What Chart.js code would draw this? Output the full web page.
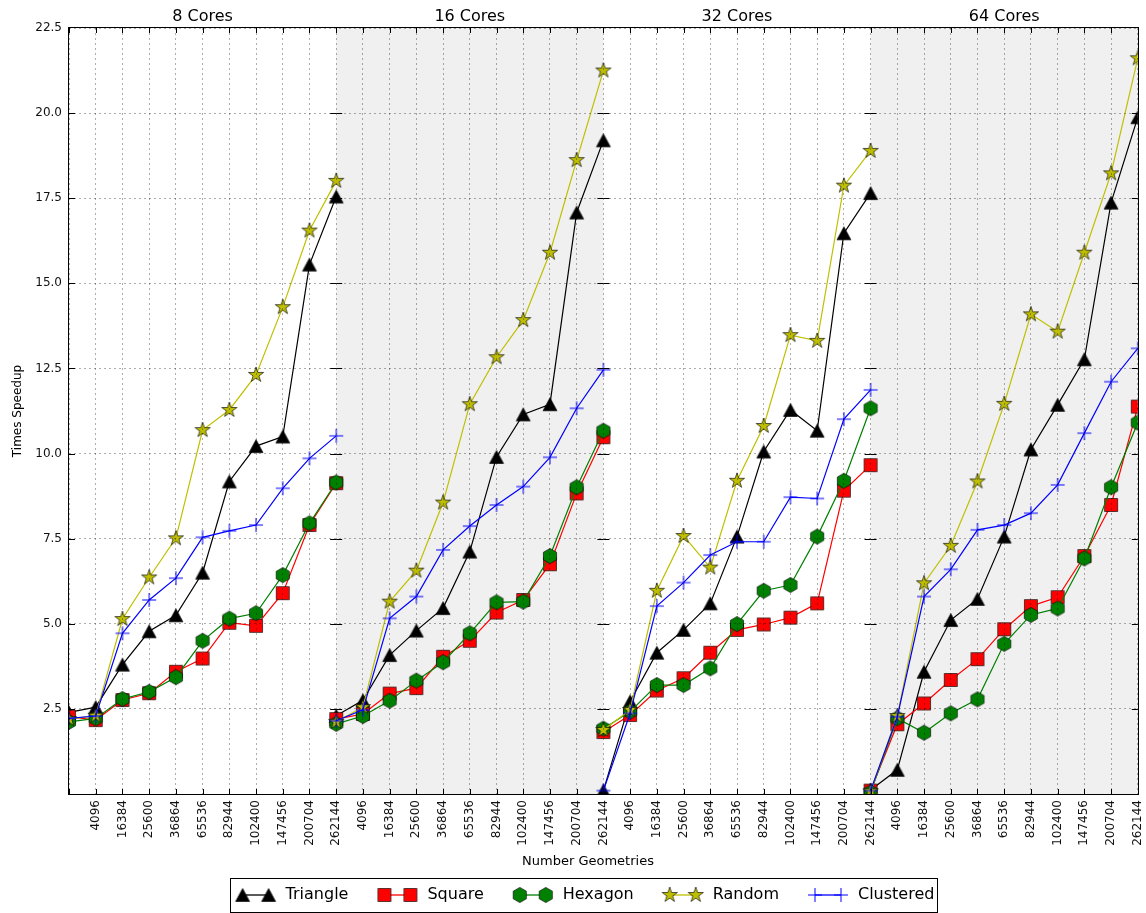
<!DOCTYPE html>
<html>
<head>
<meta charset="utf-8">
<script src="https://cdn.jsdelivr.net/npm/chart.js@4.4.1/dist/chart.umd.min.js"></script>
<style>
  html, body { margin: 0; padding: 0; background: #ffffff; }
  #wrap { width: 1146px; height: 913px; }
</style>
</head>
<body>
<div id="wrap"><canvas id="speedup" width="1146" height="913"></canvas></div>
<script>
// ---- data -------------------------------------------------------------
const panelTitles = ['8 Cores', '16 Cores', '32 Cores', '64 Cores'];
const geometryLabels = ['4096', '16384', '25600', '36864', '65536', '82944',
                        '102400', '147456', '200704', '262144'];
const seriesNames = ['Triangle', 'Square', 'Hexagon', 'Random', 'Clustered'];

// one row of 11 speedups per core count (8, 16, 32, 64)
const triangle = [
  [2.40, 2.55, 3.80, 4.78, 5.25, 6.50, 9.18, 10.22, 10.50, 15.55, 17.55],
  [2.30, 2.75, 4.08, 4.80, 5.46, 7.12, 9.90, 11.15, 11.45, 17.08, 19.20],
  [0.10, 2.72, 4.15, 4.82, 5.60, 7.56, 10.06, 11.28, 10.67, 16.47, 17.65],
  [0.12, 0.71, 3.59, 5.11, 5.73, 7.56, 10.12, 11.43, 12.77, 17.37, 19.88]
];
const square = [
  [2.27, 2.17, 2.76, 2.96, 3.59, 3.98, 5.03, 4.94, 5.90, 7.90, 9.13],
  [2.20, 2.35, 2.95, 3.11, 4.03, 4.50, 5.33, 5.70, 6.75, 8.83, 10.48],
  [1.82, 2.32, 3.04, 3.40, 4.15, 4.82, 4.98, 5.18, 5.60, 8.91, 9.66],
  [0.10, 2.05, 2.66, 3.35, 3.96, 4.84, 5.52, 5.78, 6.99, 8.49, 11.38]
];
const hexagon = [
  [2.12, 2.22, 2.79, 3.00, 3.43, 4.50, 5.15, 5.31, 6.43, 7.95, 9.15],
  [2.06, 2.29, 2.74, 3.33, 3.87, 4.72, 5.63, 5.65, 6.99, 9.01, 10.67],
  [1.92, 2.42, 3.20, 3.20, 3.69, 4.99, 5.97, 6.14, 7.56, 9.20, 11.33],
  [0.05, 2.22, 1.80, 2.37, 2.78, 4.41, 5.26, 5.45, 6.92, 9.01, 10.91]
];
const random = [
  [2.20, 2.30, 5.14, 6.36, 7.51, 10.69, 11.28, 12.31, 14.30, 16.55, 18.01],
  [2.12, 2.55, 5.65, 6.56, 8.56, 11.45, 12.83, 13.92, 15.90, 18.62, 21.25],
  [1.88, 2.47, 5.97, 7.58, 6.65, 9.20, 10.81, 13.48, 13.31, 17.87, 18.89],
  [0.08, 2.29, 6.19, 7.29, 9.18, 11.46, 14.09, 13.58, 15.90, 18.23, 21.61]
];
const clustered = [
  [2.22, 2.29, 4.72, 5.70, 6.34, 7.54, 7.73, 7.90, 8.98, 9.86, 10.52],
  [2.15, 2.47, 5.16, 5.80, 7.17, 7.87, 8.49, 9.03, 9.89, 11.33, 12.46],
  [0.10, 2.37, 5.52, 6.21, 7.02, 7.41, 7.41, 8.72, 8.68, 11.01, 11.87],
  [0.10, 2.27, 5.80, 6.60, 7.76, 7.90, 8.25, 9.08, 10.60, 12.11, 13.09]
];
const seriesValues = [triangle, square, hexagon, random, clustered];

// ---- styles -----------------------------------------------------------
const seriesColors = ['#000000', '#ff0000', '#008000', '#bfbf00', '#0000ff'];
const seriesShapes = ['triangle', 'square', 'hexagon', 'star', 'plus'];
const PANEL_SPAN = 10;

function drawMarker(ctx, shape, cx, cy, color) {
  ctx.save();
  ctx.fillStyle = color;
  ctx.strokeStyle = 'rgba(0,0,0,0.8)';
  ctx.lineWidth = 0.8;
  ctx.lineJoin = 'miter';
  ctx.beginPath();
  if (shape === 'triangle') {
    ctx.moveTo(cx, cy - 6.5);
    ctx.lineTo(cx + 7, cy + 6.5);
    ctx.lineTo(cx - 7, cy + 6.5);
    ctx.closePath();
  } else if (shape === 'square') {
    ctx.rect(cx - 6.5, cy - 6.5, 13, 13);
  } else if (shape === 'hexagon') {
    for (let i = 0; i < 6; i++) {
      const a = (60 * i - 90) * Math.PI / 180;
      const px = cx + 7.6 * Math.cos(a), py = cy + 7.6 * Math.sin(a);
      if (i === 0) ctx.moveTo(px, py); else ctx.lineTo(px, py);
    }
    ctx.closePath();
  } else if (shape === 'star') {
    for (let i = 0; i < 10; i++) {
      const r = i % 2 === 0 ? 8 : 8 * 0.382;
      const a = (36 * i - 90) * Math.PI / 180;
      const px = cx + r * Math.cos(a), py = cy + r * Math.sin(a);
      if (i === 0) ctx.moveTo(px, py); else ctx.lineTo(px, py);
    }
    ctx.closePath();
  }
  if (shape === 'plus') {
    ctx.strokeStyle = color;
    ctx.lineWidth = 1;
    ctx.moveTo(cx - 7, cy); ctx.lineTo(cx + 7, cy);
    ctx.moveTo(cx, cy - 7); ctx.lineTo(cx, cy + 7);
    ctx.stroke();
  } else {
    ctx.fill();
    ctx.stroke();
  }
  ctx.restore();
}

function markerImage(shape, color) {
  const c = document.createElement('canvas');
  c.width = 20; c.height = 20;
  drawMarker(c.getContext('2d'), shape, 10, 10, color);
  return c;
}

// legend glyph: marker - line - marker, with a blank lead-in that spaces the items
const LEGEND_LEAD = 29;
function legendImage(shape, color) {
  const c = document.createElement('canvas');
  c.width = LEGEND_LEAD + 42; c.height = 20;
  const ctx = c.getContext('2d');
  const x0 = LEGEND_LEAD + 7, x1 = LEGEND_LEAD + 33, y = 10;
  ctx.strokeStyle = color;
  ctx.lineWidth = 1.3;
  ctx.beginPath(); ctx.moveTo(x0, y); ctx.lineTo(x1, y); ctx.stroke();
  drawMarker(ctx, shape, x0, y, color);
  drawMarker(ctx, shape, x1, y, color);
  return c;
}

function buildPoints(panels) {
  const pts = [];
  panels.forEach((vals, p) => {
    if (p > 0) pts.push({ x: p * PANEL_SPAN, y: null });   // break the line between panels
    vals.forEach((v, i) => pts.push({ x: p * PANEL_SPAN + i, y: v }));
  });
  return pts;
}

const datasets = seriesNames.map((name, s) => ({
  label: name,
  data: buildPoints(seriesValues[s]),
  borderColor: seriesColors[s],
  backgroundColor: seriesColors[s],
  borderWidth: 1.2,
  pointStyle: markerImage(seriesShapes[s], seriesColors[s]),
  pointRadius: 7,
  pointHoverRadius: 7,
  fill: false,
  tension: 0,
  spanGaps: false,
  clip: 0,
  order: seriesNames.length - s
}));

const legendGlyphs = seriesNames.map((n, s) => legendImage(seriesShapes[s], seriesColors[s]));

// ---- plugins: panel shading, frame, inner ticks, titles, legend frame ----
const panelDecor = {
  id: 'panelDecor',
  beforeDraw(chart) {
    const { ctx, chartArea: a, scales: { x } } = chart;
    ctx.save();
    ctx.fillStyle = '#f0f0f0';
    [1, 3].forEach(p => {
      const l = x.getPixelForValue(p * PANEL_SPAN), r = x.getPixelForValue((p + 1) * PANEL_SPAN);
      ctx.fillRect(l, a.top, r - l, a.bottom - a.top);
    });
    ctx.restore();
  },
  afterDraw(chart) {
    const { ctx, chartArea: a, scales: { x, y } } = chart;
    ctx.save();
    // inward tick marks
    ctx.strokeStyle = '#000';
    ctx.lineWidth = 1;
    ctx.beginPath();
    for (let i = 0; i <= 4 * PANEL_SPAN; i++) {
      const px = Math.round(x.getPixelForValue(i)) + 0.5;
      ctx.moveTo(px, a.bottom); ctx.lineTo(px, a.bottom - 5);
      ctx.moveTo(px, a.top); ctx.lineTo(px, a.top + 5);
    }
    for (let v = 2.5; v < 22.5; v += 2.5) {
      const py = Math.round(y.getPixelForValue(v)) + 0.5;
      for (let p = 0; p <= 4; p++) {
        const px = x.getPixelForValue(p * PANEL_SPAN);
        if (p < 4) { ctx.moveTo(px, py); ctx.lineTo(px + 6, py); }
        if (p > 0) { ctx.moveTo(px, py); ctx.lineTo(px - 6, py); }
      }
    }
    ctx.stroke();
    // frame
    ctx.strokeRect(Math.round(a.left) - 0.5, Math.round(a.top) - 0.5,
                   Math.round(a.right - a.left) + 1, Math.round(a.bottom - a.top) + 1);
    // panel titles
    ctx.fillStyle = '#000';
    ctx.font = '16px "DejaVu Sans"';
    ctx.textAlign = 'center';
    ctx.textBaseline = 'alphabetic';
    panelTitles.forEach((t, p) => {
      ctx.fillText(t, x.getPixelForValue(p * PANEL_SPAN + PANEL_SPAN / 2), a.top - 7);
    });
    // x axis title
    ctx.font = '13px "DejaVu Sans"';
    ctx.textBaseline = 'middle';
    ctx.fillText('Number Geometries', chart.width / 2 + 15, 862);
    // legend frame
    const hb = chart.legend.legendHitBoxes;
    if (hb && hb.length) {
      const first = hb[0], last = hb[hb.length - 1];
      const x0 = Math.round(first.left + LEGEND_LEAD - 6) + 0.5;
      const x1 = Math.round(last.left + last.width + 3) + 0.5;
      const cy = first.top + first.height / 2;
      const y0 = Math.round(cy - 17) + 0.5;
      ctx.lineWidth = 1;
      ctx.strokeStyle = '#000';
      ctx.strokeRect(x0, y0, x1 - x0, 34);
    }
    ctx.restore();
  }
};

Chart.defaults.font.family = '"DejaVu Sans", sans-serif';

new Chart(document.getElementById('speedup'), {
  type: 'line',
  data: { datasets },
  plugins: [panelDecor],
  options: {
    responsive: false,
    animation: false,
    devicePixelRatio: 1,
    events: [],
    layout: { padding: { top: 28, right: 5, left: 0, bottom: 0 } },
    scales: {
      x: {
        type: 'linear',
        min: 0,
        max: 4 * PANEL_SPAN,
        afterFit(scale) { scale.height = 93; scale.paddingLeft = 0; scale.paddingRight = 0; },
        border: { display: false, dash: [2, 3] },
        grid: { color: 'rgba(0,0,0,0.32)', lineWidth: 1, drawTicks: false, z: 1 },
        ticks: {
          stepSize: 1,
          autoSkip: false,
          minRotation: 90,
          maxRotation: 90,
          padding: 6,
          color: '#111',
          font: { size: 12 },
          callback(v) {
            const i = Math.round(v);
            return i === 0 ? '' : geometryLabels[(i - 1) % PANEL_SPAN];
          }
        },
        title: { display: false }
      },
      y: {
        min: 0,
        max: 22.5,
        afterFit(scale) { scale.width = 69; scale.paddingTop = 0; scale.paddingBottom = 0; },
        border: { display: false, dash: [2, 3] },
        grid: { color: 'rgba(0,0,0,0.32)', lineWidth: 1, drawTicks: false, z: 1 },
        ticks: {
          stepSize: 2.5,
          padding: 7,
          color: '#111',
          font: { size: 12 },
          callback(v) { return v === 0 ? '' : v.toFixed(1); }
        },
        title: {
          display: true,
          text: 'Times Speedup',
          color: '#000',
          font: { size: 12 },
          padding: { top: 11, bottom: 0 }
        }
      }
    },
    plugins: {
      tooltip: { enabled: false },
      legend: {
        position: 'bottom',
        onClick: null,
        labels: {
          usePointStyle: true,
          pointStyleWidth: LEGEND_LEAD + 42,
          padding: 0,
          color: '#000',
          font: { size: 16 },
          generateLabels() {
            return seriesNames.map((n, s) => ({
              text: n,
              pointStyle: legendGlyphs[s],
              fillStyle: seriesColors[s],
              strokeStyle: seriesColors[s],
              lineWidth: 0,
              hidden: false,
              datasetIndex: s
            }));
          }
        }
      }
    }
  }
});
</script>
</body>
</html>
